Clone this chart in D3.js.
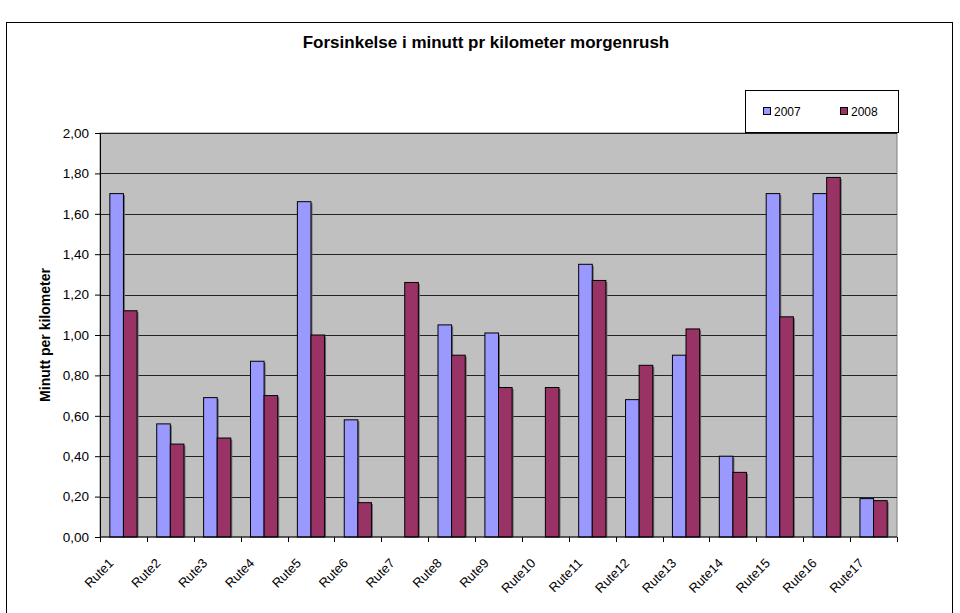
<!DOCTYPE html>
<html>
<head>
<meta charset="utf-8">
<script src="https://cdn.jsdelivr.net/npm/d3@7"></script>
<style>
  body { margin: 0; background: #fff; }
  svg { display: block; font-family: Arial, "Liberation Sans", sans-serif; }
</style>
</head>
<body>
<svg id="viz" width="960" height="613"></svg>
<script>
var routes = ["Rute1", "Rute2", "Rute3", "Rute4", "Rute5", "Rute6", "Rute7", "Rute8", "Rute9",
              "Rute10", "Rute11", "Rute12", "Rute13", "Rute14", "Rute15", "Rute16", "Rute17"];
var years = ["2007", "2008"];
var values2007 = [1.70, 0.56, 0.69, 0.87, 1.66, 0.58, 0, 1.05, 1.01, 0, 1.35, 0.68, 0.90, 0.40, 1.70, 1.70, 0.19];
var values2008 = [1.12, 0.46, 0.49, 0.70, 1.00, 0.17, 1.26, 0.90, 0.74, 0.74, 1.27, 0.85, 1.03, 0.32, 1.09, 1.78, 0.18];
var yTicks = [0, 0.2, 0.4, 0.6, 0.8, 1.0, 1.2, 1.4, 1.6, 1.8, 2.0];

var colors = {"2007": "#9999ff", "2008": "#993366"};

var svg = d3.select("#viz");

// outer chart frame
svg.append("rect")
  .attr("x", 6.5).attr("y", 22.5)
  .attr("width", 946).attr("height", 620)
  .attr("fill", "none").attr("stroke", "#000");

svg.append("text")
  .attr("x", 486).attr("y", 48)
  .attr("text-anchor", "middle")
  .style("font-size", "17px").style("font-weight", "bold")
  .text("Forsinkelse i minutt pr kilometer morgenrush");

var plot = {left: 100, right: 897, top: 133, bottom: 537};

var x = d3.scaleBand().domain(routes)
  .range([plot.left, plot.right])
  .paddingInner(0.42).paddingOuter(0.21);
var xs = d3.scaleBand().domain(years).range([0, x.bandwidth()]);
var y = d3.scaleLinear().domain([0, 2]).range([plot.bottom, plot.top]);

// plot area
svg.append("rect")
  .attr("x", plot.left).attr("y", plot.top)
  .attr("width", plot.right - plot.left).attr("height", plot.bottom - plot.top)
  .attr("fill", "#c0c0c0").attr("stroke", "#808080");

svg.selectAll("line.grid")
  .data(yTicks.slice(1))
  .enter().append("line")
  .attr("class", "grid")
  .attr("x1", plot.left).attr("x2", plot.right)
  .attr("y1", function(d) { return Math.round(y(d)) + 0.5; })
  .attr("y2", function(d) { return Math.round(y(d)) + 0.5; })
  .attr("stroke", "#222");

// bars
var rows = routes.map(function(r, i) { return {route: r, "2007": values2007[i], "2008": values2008[i]}; });
var groups = svg.selectAll("g.route")
  .data(rows)
  .enter().append("g")
  .attr("transform", function(d) { return "translate(" + x(d.route) + ",0)"; });

var barData = function(d) {
  return years.map(function(k) { return {key: k, value: d[k]}; })
    .filter(function(d) { return d.value > 0; });
};

// faint shadow on the right of each bar
groups.selectAll("rect.shadow")
  .data(barData)
  .enter().append("rect")
  .attr("class", "shadow")
  .attr("x", function(d) { return xs(d.key) + 1.5; })
  .attr("y", function(d) { return y(d.value) + 1.5; })
  .attr("width", xs.bandwidth())
  .attr("height", function(d) { return y(0) - y(d.value) - 1.5; })
  .attr("fill", "#6a6a6a");

groups.selectAll("rect.bar")
  .data(barData)
  .enter().append("rect")
  .attr("class", "bar")
  .attr("x", function(d) { return xs(d.key); })
  .attr("y", function(d) { return y(d.value); })
  .attr("width", xs.bandwidth())
  .attr("height", function(d) { return y(0) - y(d.value); })
  .attr("fill", function(d) { return colors[d.key]; })
  .attr("stroke", "#000");

// y axis
var fmt = d3.format(".2f");
var yAxis = svg.append("g")
  .attr("transform", "translate(" + plot.left + ",0)")
  .call(d3.axisLeft(y).tickValues(yTicks).tickSize(5).tickSizeOuter(0)
    .tickFormat(function(d) { return fmt(d).replace(".", ","); }));
yAxis.select(".domain").attr("stroke", "#000");
yAxis.selectAll("text").style("font-size", "13.5px").attr("fill", "#000").attr("dx", "-3");

// x axis with ticks on category boundaries
var xAxis = svg.append("g")
  .attr("transform", "translate(0," + plot.bottom + ")");
xAxis.append("line")
  .attr("x1", plot.left).attr("x2", plot.right)
  .attr("stroke", "#000");
var step = x.step();
xAxis.selectAll("line.tick")
  .data(d3.range(routes.length + 1))
  .enter().append("line")
  .attr("class", "tick")
  .attr("x1", function(i) { return Math.round(plot.left + i * step) + 0.5; })
  .attr("x2", function(i) { return Math.round(plot.left + i * step) + 0.5; })
  .attr("y1", 0).attr("y2", 5)
  .attr("stroke", "#000");
xAxis.selectAll("text")
  .data(routes)
  .enter().append("text")
  .attr("transform", function(d) { return "translate(" + (x(d) + x.bandwidth() / 2 - 9) + ",27) rotate(-45)"; })
  .attr("text-anchor", "end")
  .style("font-size", "13px")
  .text(function(d) { return d; });

// y axis title
svg.append("text")
  .attr("transform", "translate(50," + (plot.top + plot.bottom) / 2 + ") rotate(-90)")
  .attr("text-anchor", "middle")
  .style("font-size", "14px").style("font-weight", "bold")
  .text("Minutt per kilometer");

// legend
var legend = svg.append("g").attr("transform", "translate(745,90)");
legend.append("rect")
  .attr("x", 0.5).attr("y", 0.5).attr("width", 153).attr("height", 42)
  .attr("fill", "#fff").attr("stroke", "#000");
var li = legend.selectAll("g.item")
  .data(years)
  .enter().append("g")
  .attr("transform", function(d, i) { return "translate(" + (18 + i * 77) + ",21)"; });
li.append("rect")
  .attr("x", 0.5).attr("y", -3.5).attr("width", 7).attr("height", 7)
  .attr("fill", function(d) { return colors[d]; }).attr("stroke", "#000");
li.append("text")
  .attr("x", 11).attr("y", 4.5)
  .style("font-size", "12px")
  .text(function(d) { return d; });
</script>
</body>
</html>
